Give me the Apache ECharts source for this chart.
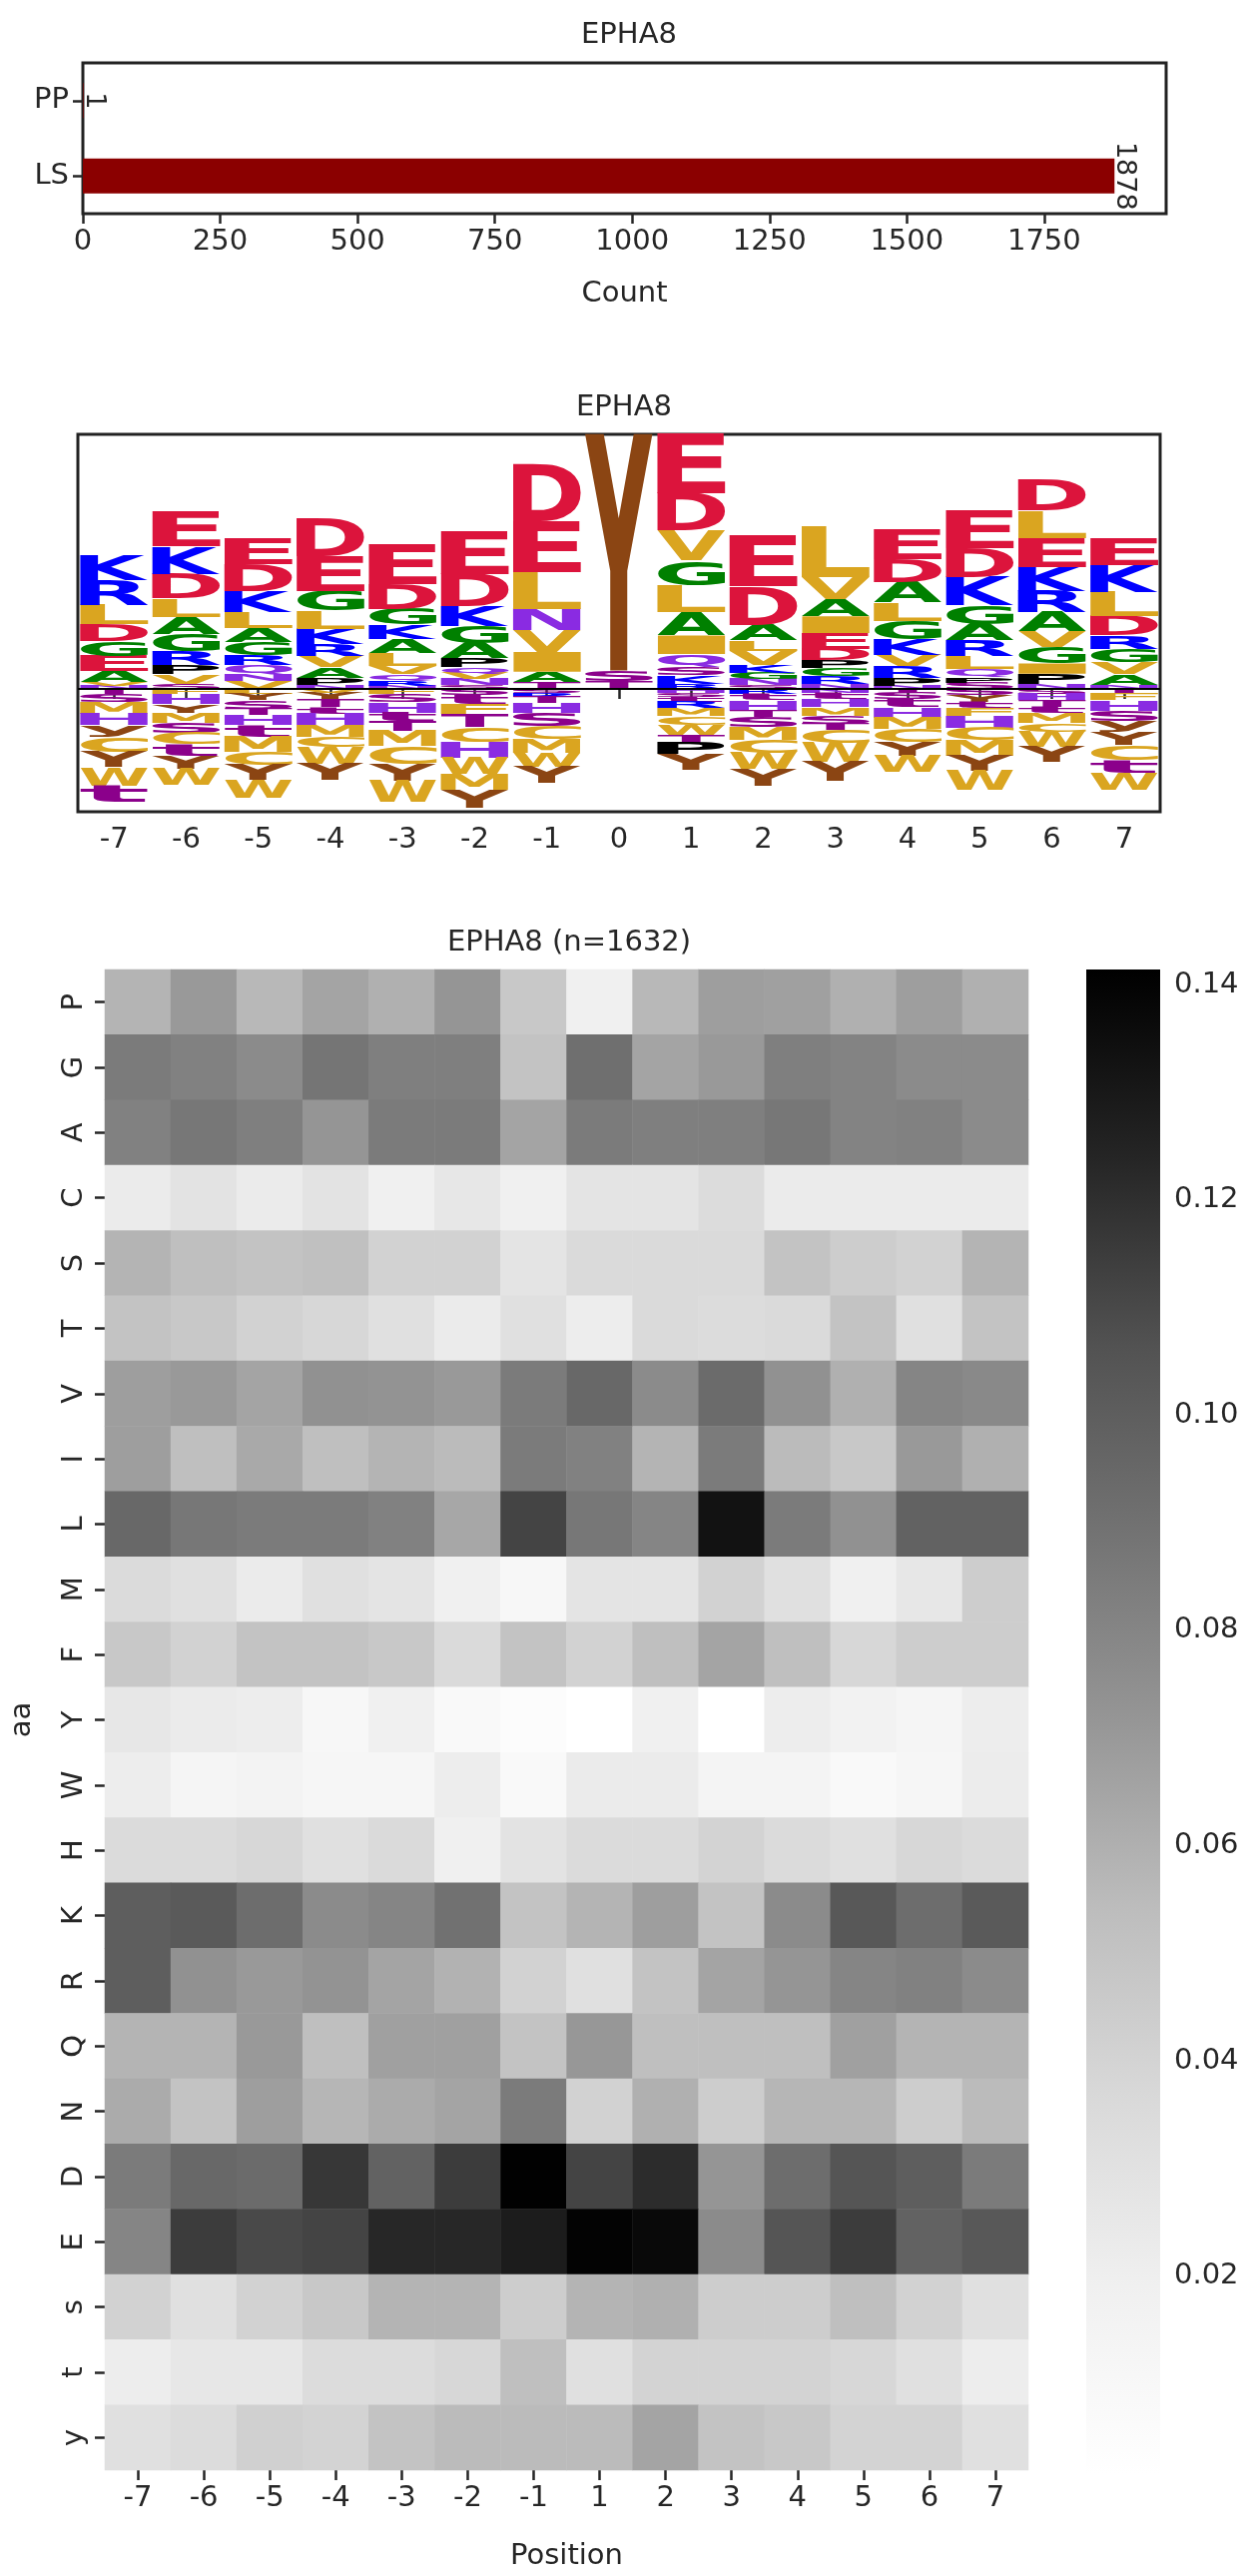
<!DOCTYPE html>
<html><head><meta charset="utf-8">
<script src="https://cdn.jsdelivr.net/npm/echarts@6/dist/echarts.min.js"></script>
<style>html,body{margin:0;padding:0;background:#fff}#c{width:1257px;height:2580px}</style>
</head><body><div id="c"></div>
<script>
// ---------- data ----------
const countCats = ['LS', 'PP'];
const countVals = [1878, 1];

const positions = ['-7','-6','-5','-4','-3','-2','-1','0','1','2','3','4','5','6','7'];
// letter stacks above baseline (from baseline upward), heights in logo units
const logoUp = [
  [['N',.05],['V',.05],['A',.18],['E',.24],['G',.24],['D',.26],['L',.30],['R',.39],['K',.39]],
  [['S',.08],['V',.15],['P',.14],['R',.22],['G',.27],['A',.27],['L',.29],['D',.39],['K',.43],['E',.54]],
  [['V',.13],['N',.10],['Q',.14],['R',.16],['G',.20],['A',.22],['L',.25],['K',.33],['D',.43],['E',.40]],
  [['N',.06],['P',.11],['A',.17],['V',.18],['R',.18],['K',.24],['L',.29],['G',.31],['E',.55],['D',.58]],
  [['N',.05],['R',.08],['Q',.10],['V',.13],['L',.20],['A',.23],['K',.22],['G',.25],['D',.39],['E',.63]],
  [['S',.06],['N',.09],['V',.09],['Q',.10],['P',.14],['A',.24],['G',.27],['K',.31],['D',.51],['E',.67]],
  [['T',.10],['A',.17],['I',.31],['V',.34],['N',.34],['L',.58],['E',.79],['D',.90]],
  [['T',.13],['S',.16],['Y',3.72]],
  [['R',.08],['K',.13],['S',.13],['Q',.21],['I',.29],['A',.37],['L',.42],['G',.39],['V',.47],['D',.58],['E',.94]],
  [['S',.06],['N',.09],['G',.10],['K',.12],['V',.22],['L',.17],['A',.25],['D',.60],['E',.80]],
  [['N',.08],['R',.12],['G',.13],['P',.12],['D',.18],['E',.25],['I',.26],['A',.27],['V',.34],['L',.80]],
  [['N',.05],['P',.12],['R',.19],['V',.18],['K',.24],['G',.29],['L',.29],['A',.32],['D',.36],['E',.46]],
  [['S',.10],['P',.09],['Q',.12],['L',.21],['R',.24],['A',.26],['G',.29],['K',.45],['D',.45],['E',.59]],
  [['N',.08],['P',.16],['I',.16],['G',.26],['V',.24],['A',.30],['R',.34],['K',.38],['E',.45],['L',.43],['D',.49]],
  [['N',.06],['A',.17],['V',.19],['G',.21],['R',.21],['D',.30],['L',.38],['K',.43],['E',.43]]
];
// letter stacks below baseline (from baseline downward)
const logoDown = [
  [['T',.08],['S',.13],['M',.18],['H',.18],['y',.18],['C',.24],['Y',.24],['W',.29],['t',.26]],
  [['F',.08],['H',.16],['Y',.13],['M',.16],['S',.16],['C',.18],['t',.18],['Y',.20],['W',.26]],
  [['L',.08],['Y',.10],['S',.13],['T',.10],['H',.16],['t',.18],['M',.24],['C',.20],['Y',.24],['W',.28]],
  [['V',.06],['Y',.10],['T',.13],['t',.10],['H',.18],['M',.18],['C',.16],['W',.26],['Y',.26]],
  [['F',.08],['S',.13],['H',.16],['t',.13],['T',.16],['M',.24],['C',.28],['Y',.26],['W',.34]],
  [['S',.10],['t',.13],['F',.16],['T',.21],['C',.24],['H',.24],['W',.26],['M',.24],['Y',.29]],
  [['S',.06],['R',.06],['T',.10],['H',.16],['S',.20],['C',.20],['M',.22],['W',.22],['Y',.26]],
  [],
  [['H',.06],['S',.06],['t',.08],['R',.10],['M',.13],['C',.13],['W',.16],['T',.13],['P',.18],['Y',.24]],
  [['R',.08],['t',.10],['H',.16],['T',.10],['S',.16],['M',.20],['C',.20],['W',.26],['Y',.26]],
  [['N',.06],['t',.10],['H',.13],['M',.13],['S',.13],['T',.10],['C',.20],['W',.30],['Y',.30]],
  [['T',.06],['S',.10],['t',.13],['H',.16],['M',.18],['C',.20],['Y',.22],['W',.26]],
  [['S',.10],['Y',.10],['t',.10],['F',.13],['H',.18],['C',.20],['M',.24],['Y',.24],['W',.30]],
  [['S',.08],['H',.10],['T',.10],['t',.10],['M',.16],['C',.13],['W',.24],['Y',.24]],
  [['T',.08],['F',.10],['H',.16],['S',.16],['y',.18],['Y',.20],['C',.24],['t',.20],['W',.26]]
];

const heatCols = ['-7','-6','-5','-4','-3','-2','-1','1','2','3','4','5','6','7'];
const aaRows = ['P','G','A','C','S','T','V','I','L','M','F','Y','W','H','K','R','Q','N','D','E','s','t','y'];
const rowP = [.058,.070,.056,.065,.060,.072,.047,.019,.056,.068,.067,.060,.068,.060];
const rowG = [.085,.082,.077,.088,.083,.083,.050,.091,.065,.070,.083,.081,.077,.077];
const rowA = [.082,.087,.083,.072,.085,.085,.065,.085,.083,.083,.087,.081,.082,.077];
const rowC = [.023,.029,.023,.029,.019,.026,.019,.028,.028,.034,.023,.023,.023,.023];
const rowS = [.058,.053,.050,.052,.041,.041,.028,.036,.036,.036,.050,.044,.041,.058];
const rowT = [.050,.047,.041,.038,.031,.023,.031,.021,.036,.034,.036,.050,.031,.050];
const rowV = [.068,.070,.065,.074,.073,.070,.085,.095,.077,.093,.074,.060,.080,.078];
const rowI = [.068,.053,.063,.053,.058,.055,.085,.082,.058,.085,.055,.047,.070,.060];
const rowL = [.095,.087,.085,.085,.082,.064,.112,.087,.080,.133,.085,.074,.098,.098];
const rowM = [.035,.031,.023,.031,.028,.019,.011,.028,.028,.041,.031,.019,.026,.044];
const rowF = [.047,.041,.050,.050,.047,.036,.050,.041,.053,.065,.053,.038,.044,.044];
const rowY = [.026,.023,.021,.011,.019,.009,.005,.002,.019,.002,.021,.017,.013,.021];
const rowW = [.021,.013,.015,.012,.012,.021,.008,.023,.023,.014,.014,.008,.012,.022];
const rowH = [.035,.035,.038,.031,.036,.019,.029,.035,.035,.040,.035,.031,.038,.035];
const rowK = [.100,.102,.092,.077,.080,.090,.050,.058,.068,.050,.077,.103,.092,.102];
const rowR = [.100,.074,.070,.073,.065,.059,.041,.031,.050,.065,.072,.080,.082,.077];
const rowQ = [.058,.058,.070,.053,.067,.067,.050,.071,.053,.053,.053,.067,.058,.058];
const rowN = [.062,.050,.068,.057,.062,.065,.085,.041,.060,.044,.057,.057,.044,.055];
const rowD = [.085,.095,.093,.117,.098,.115,.141,.112,.121,.072,.092,.105,.100,.085];
const rowE = [.080,.115,.110,.112,.123,.123,.128,.140,.137,.077,.105,.115,.098,.103];
const rows_ = [.041,.031,.041,.047,.058,.058,.044,.058,.060,.044,.044,.053,.041,.031];
const rowt = [.021,.026,.026,.034,.034,.038,.053,.031,.040,.040,.040,.038,.031,.021];
const rowy = [.031,.034,.042,.040,.050,.055,.055,.055,.065,.050,.047,.040,.040,.031];
const heatRows = [rowP,rowG,rowA,rowC,rowS,rowT,rowV,rowI,rowL,rowM,rowF,rowY,rowW,rowH,rowK,rowR,rowQ,rowN,rowD,rowE,rows_,rowt,rowy];
const heatMin = 0.0015, heatMax = 0.1414;
const cbTicks = [0.02, 0.04, 0.06, 0.08, 0.10, 0.12, 0.14];

// ---------- styles ----------
const FONT = '"DejaVu Sans", sans-serif';
const TXT = '#262626';
const greys = ['#ffffff','#f0f0f0','#d9d9d9','#bdbdbd','#969696','#737373','#525252','#252525','#000000'];
const letterColor = {
  D:'#dc143c', E:'#dc143c', K:'#0000ff', R:'#0000ff', H:'#8a2be2', N:'#8a2be2', Q:'#8a2be2',
  S:'#8b008b', T:'#8b008b', s:'#8b008b', t:'#8b008b',
  A:'#008000', G:'#008000', P:'#000000',
  L:'#daa520', V:'#daa520', I:'#daa520', M:'#daa520', F:'#daa520', W:'#daa520', C:'#daa520',
  Y:'#8b4513', y:'#8b4513'
};
const LFONT = 'bold 100px "DejaVu Sans"';
const mctx = document.createElement('canvas').getContext('2d');
mctx.font = LFONT; mctx.textAlign = 'left'; mctx.textBaseline = 'middle';
const metrics = {};
Object.keys(letterColor).forEach(ch => {
  const m = mctx.measureText(ch);
  metrics[ch] = {l: m.actualBoundingBoxLeft, r: m.actualBoundingBoxRight, a: m.actualBoundingBoxAscent, d: m.actualBoundingBoxDescent};
});

// ---------- build logo items ----------
const logoData = [];
positions.forEach((p, i) => {
  let c = 0;
  logoUp[i].forEach(([ch, h]) => { logoData.push([i, c, c + h, ch]); c += h; });
  c = 0;
  logoDown[i].forEach(([ch, h]) => { logoData.push([i, c - h, c, ch]); c -= h; });
});
const heatData = [];
heatRows.forEach((r, yi) => r.forEach((v, xi) => heatData.push([xi, yi, v])));

const chart = echarts.init(document.getElementById('c'), null, {renderer: 'canvas'});
const FS = 29;
const axisTxt = {color: TXT, fontFamily: FONT, fontSize: FS};
const tick = {show: true, length: 10, lineStyle: {color: TXT, width: 2.5}};
const frame = {show: true, borderColor: '#222', borderWidth: 3};
const titleStyle = {fontFamily: FONT, fontSize: FS, fontWeight: 'normal', color: TXT};

chart.setOption({
  animation: false,
  title: [
    {text: 'EPHA8', top: 16, left: 625, textAlign: 'center', textStyle: titleStyle},
    {text: 'EPHA8', top: 389, left: 620, textAlign: 'center', textStyle: titleStyle},
    {text: 'EPHA8 (n=1632)', top: 925, left: 565, textAlign: 'center', textStyle: titleStyle}
  ],
  grid: [
    Object.assign({left: 83, top: 63, width: 1085, height: 151}, frame),
    Object.assign({left: 78, top: 435, width: 1084, height: 378}, frame),
    {left: 100, top: 971, width: 930, height: 1508},
    {left: 1088, top: 971, width: 74, height: 1508}
  ],
  xAxis: [
    {gridIndex: 0, type: 'value', min: 0, max: 1972, interval: 250, name: 'Count', nameLocation: 'middle', nameGap: 66,
     nameTextStyle: axisTxt, axisLabel: Object.assign({margin: 14, showMaxLabel: false, formatter: v => String(v)}, axisTxt), axisTick: tick,
     axisLine: {show: false}, splitLine: {show: false}},
    {gridIndex: 1, type: 'category', data: positions, axisLabel: Object.assign({margin: 14}, axisTxt),
     axisTick: Object.assign({alignWithLabel: true}, tick), axisLine: {show: false}},
    {gridIndex: 2, type: 'category', data: heatCols, name: 'Position', nameLocation: 'middle', nameGap: 72,
     nameTextStyle: axisTxt, axisLabel: Object.assign({margin: 14}, axisTxt),
     axisTick: Object.assign({alignWithLabel: true}, tick), axisLine: {show: false}},
    {gridIndex: 3, type: 'value', min: 0, max: 1, show: false}
  ],
  yAxis: [
    {gridIndex: 0, type: 'category', data: countCats, axisLabel: Object.assign({margin: 14}, axisTxt),
     axisTick: Object.assign({alignWithLabel: true}, tick), axisLine: {show: false}},
    {gridIndex: 1, type: 'value', min: -1.93, max: 4.0, show: false},
    {gridIndex: 2, type: 'category', data: aaRows, inverse: true, name: 'aa', nameLocation: 'middle', nameGap: 68,
     nameTextStyle: axisTxt, axisLabel: Object.assign({margin: 16, rotate: 90}, axisTxt),
     axisTick: Object.assign({alignWithLabel: true}, tick), axisLine: {show: false}},
    {gridIndex: 3, type: 'value', position: 'right', min: heatMin, max: heatMax,
     axisLabel: Object.assign({margin: 14, customValues: cbTicks, formatter: v => v.toFixed(2)}, axisTxt),
     axisTick: Object.assign({customValues: cbTicks}, tick), axisLine: {show: false}, splitLine: {show: false}}
  ],
  visualMap: [{show: false, type: 'continuous', seriesIndex: 2, min: heatMin, max: heatMax, inRange: {color: greys}}],
  series: [
    {type: 'bar', xAxisIndex: 0, yAxisIndex: 0, data: countVals, barWidth: 35,
     itemStyle: {color: '#8b0000'},
     label: {show: true, position: 'right', rotate: -90, distance: 10, align: 'center', verticalAlign: 'middle',
       color: TXT, fontFamily: FONT, fontSize: 27}},
    {type: 'custom', xAxisIndex: 1, yAxisIndex: 1, data: logoData, clip: false,
     renderItem: function (params, api) {
       const i = api.value(0), y0 = api.value(1), y1 = api.value(2);
       const ch = logoData[params.dataIndex][3];
       const bot = api.coord([i, y0]), top = api.coord([i, y1]);
       const w = api.size([1, 0])[0] * 0.94;
       const h = bot[1] - top[1];
       const m = metrics[ch];
       const sx = w / (m.l + m.r), sy = h / (m.a + m.d);
       return {type: 'text', x: bot[0] - w / 2 + sx * m.l, y: top[1] + sy * m.a, scaleX: sx, scaleY: sy,
         style: {text: ch, font: LFONT, fill: letterColor[ch], align: 'left', verticalAlign: 'middle'}};
     },
     markLine: {silent: true, symbol: 'none', label: {show: false}, lineStyle: {color: '#000', width: 2, type: 'solid'},
       data: [{yAxis: 0}]}},
    {type: 'heatmap', xAxisIndex: 2, yAxisIndex: 2, data: heatData, itemStyle: {borderWidth: 0}},
    {type: 'custom', xAxisIndex: 3, yAxisIndex: 3, data: [[0, heatMin, heatMax]],
     renderItem: function (params, api) {
       const a = api.coord([0, api.value(2)]), b = api.coord([1, api.value(1)]);
       return {type: 'rect', shape: {x: a[0], y: a[1], width: b[0] - a[0], height: b[1] - a[1]},
         style: {fill: new echarts.graphic.LinearGradient(0, 0, 0, 1,
           greys.slice().reverse().map((c, k) => ({offset: k / 8, color: c})))}};
     }}
  ]
});
</script></body></html>
